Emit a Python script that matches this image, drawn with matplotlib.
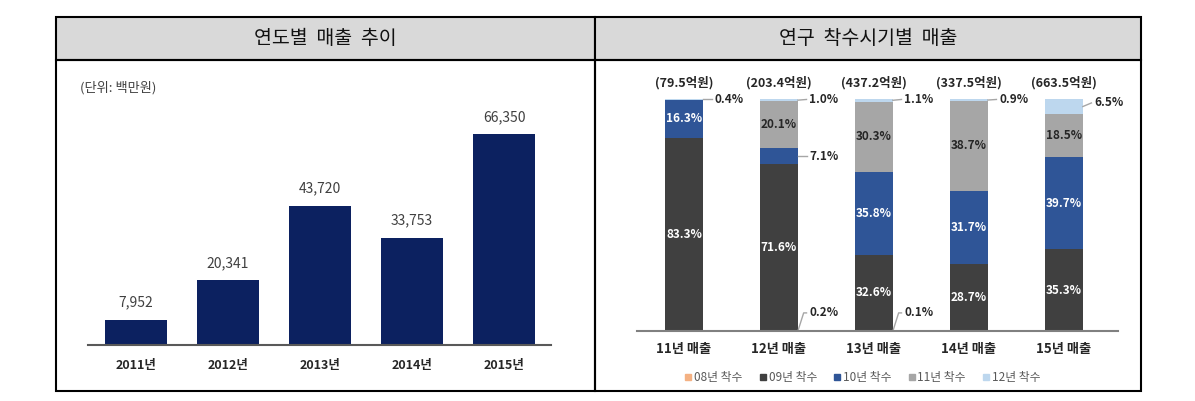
import matplotlib
matplotlib.use('Agg')
import matplotlib.pyplot as plt
from matplotlib.patches import Rectangle
from matplotlib.lines import Line2D

plt.rcParams['font.family'] = ['Noto Sans CJK KR', 'DejaVu Sans']

#______________________________DATA____________________________________________
years = ['2011년', '2012년', '2013년', '2014년', '2015년']
sales = [7952, 20341, 43720, 33753, 66350]

periods = ['11년 매출', '12년 매출', '13년 매출', '14년 매출', '15년 매출']
totals = ['(79.5억원)', '(203.4억원)', '(437.2억원)', '(337.5억원)', '(663.5억원)']
start_names = ['08년 착수', '09년 착수', '10년 착수', '11년 착수', '12년 착수']
start08 = [0.0, 0.2, 0.1, 0.0, 0.0]
start09 = [83.3, 71.6, 32.6, 28.7, 35.3]
start10 = [16.3, 7.1, 35.8, 31.7, 39.7]
start11 = [0.0, 20.1, 30.3, 38.7, 18.5]
start12 = [0.4, 1.0, 1.1, 0.9, 6.5]

W, H = 1195, 401
navy = '#0C2160'
colors = ['#F4B183', '#404040', '#2F5597', '#A6A6A6', '#BDD7EE']


def px_rect(x0, y0, x1, y1):
    # pixel box (top-left origin) -> figure fraction
    return [x0 / W, 1 - y1 / H, (x1 - x0) / W, (y1 - y0) / H]


fig = plt.figure(figsize=(W / 100, H / 100), dpi=100)

#______________________________FRAME___________________________________________
for (x0, x1) in [(56, 595), (595, 1141)]:
    r = px_rect(x0, 17, x1, 60)
    fig.patches.append(Rectangle((r[0], r[1]), r[2], r[3], transform=fig.transFigure,
                                 facecolor='#D9D9D9', edgecolor='black', lw=1.5))
    r = px_rect(x0, 60, x1, 391)
    fig.patches.append(Rectangle((r[0], r[1]), r[2], r[3], transform=fig.transFigure,
                                 facecolor='none', edgecolor='black', lw=1.5))
fig.text(325 / W, 1 - 39 / H, '연도별  매출  추이', ha='center', va='center', fontsize=14, color='#111111')
fig.text(868 / W, 1 - 39 / H, '연구  착수시기별  매출', ha='center', va='center', fontsize=14, color='#111111')

#______________________________LEFT CHART______________________________________
ax = fig.add_axes(px_rect(88, 65, 551, 345))
xs = range(len(years))
ax.bar(xs, sales, width=0.67, color=navy)
for x, v in zip(xs, sales):
    ax.text(x, v + 3200, '{:,}'.format(v), ha='center', va='bottom', fontsize=10, color='#404040')
ax.set_xlim(-0.52, 4.51)
ax.set_ylim(0, 66350 * 280 / 211)
for s in ['top', 'right', 'left']:
    ax.spines[s].set_visible(False)
ax.spines['bottom'].set_color('#595959')
ax.spines['bottom'].set_linewidth(1.5)
ax.set_yticks([])
ax.set_xticks(list(xs))
ax.set_xticklabels(years, fontsize=9, fontweight='bold', color='#262626')
ax.tick_params(axis='x', length=0, pad=10)
fig.text(80 / W, 1 - 88 / H, '(단위: 백만원)', ha='left', va='center', fontsize=9.5, color='#404040')

#______________________________RIGHT CHART_____________________________________
ax2 = fig.add_axes(px_rect(637, 65, 1118, 331))
xs = list(range(len(periods)))
bw = 0.4
stack = [start08, start09, start10, start11, start12]
bottom = [0.0] * len(xs)
for vals, c, name in zip(stack, colors, start_names):
    ax2.bar(xs, vals, width=bw, bottom=bottom, color=c, label=name)
    bottom = [b + v for b, v in zip(bottom, vals)]

# labels inside segments
inside = [(start09, 'white'), (start10, 'white'), (start11, '#262626')]
base = [a for a in start08]
for vals, tc in inside:
    for x, v in enumerate(vals):
        if v >= 10:
            ax2.text(x, base[x] + v / 2, '%.1f%%' % v, ha='center', va='center',
                     fontsize=8.5, fontweight='bold', color=tc)
    base = [b + v for b, v in zip(base, vals)]

lc = '#A6A6A6'
# top callouts (12년 착수)
for x in xs:
    top = 100 - start12[x] / 2
    ty = 98.3 if start12[x] > 3 else 99.8
    ax2.plot([x + bw / 2, x + 0.29], [top, ty], color=lc, lw=1)
    ax2.text(x + 0.32, ty, '%.1f%%' % start12[x], ha='left', va='center',
             fontsize=8.5, fontweight='bold', color='#262626')
# 7.1% callout on 12년 bar
mid = start08[1] + start09[1] + start10[1] / 2
ax2.plot([1 + bw / 2, 1 + 0.29], [mid, mid], color=lc, lw=1)
ax2.text(1 + 0.32, mid, '%.1f%%' % start10[1], ha='left', va='center',
         fontsize=8.5, fontweight='bold', color='#262626')
# bottom callouts (08년 착수)
for x in [1, 2]:
    ax2.plot([x + bw / 2, x + 0.26, x + 0.29], [start08[x] / 2, 7.8, 7.8], color=lc, lw=1)
    ax2.text(x + 0.32, 7.8, '%.1f%%' % start08[x], ha='left', va='center',
             fontsize=8.5, fontweight='bold', color='#262626')
# totals
for x, t in zip(xs, totals):
    ax2.text(x, 106.9, t, ha='center', va='center', fontsize=9, fontweight='bold', color='#262626')

ax2.set_xlim(-0.495, 4.57)
ax2.set_ylim(0, 100 * 266 / 232)
for s in ['top', 'right', 'left']:
    ax2.spines[s].set_visible(False)
ax2.spines['bottom'].set_color('#808080')
ax2.spines['bottom'].set_linewidth(1.5)
ax2.set_yticks([])
ax2.set_xticks(xs)
ax2.set_xticklabels(periods, fontsize=9.5, fontweight='bold', color='#262626')
ax2.tick_params(axis='x', length=0, pad=8)

handles = [Line2D([], [], marker='s', ls='none', color=c, markersize=5) for c in colors]
fig.legend(handles, start_names, loc='center', bbox_to_anchor=(862 / W, 1 - 378 / H), ncol=5,
           frameon=False, fontsize=8.5, handletextpad=0.1, columnspacing=1.3,
           labelcolor='#595959', handlelength=0.8)

fig.savefig('out.png', dpi=100)
